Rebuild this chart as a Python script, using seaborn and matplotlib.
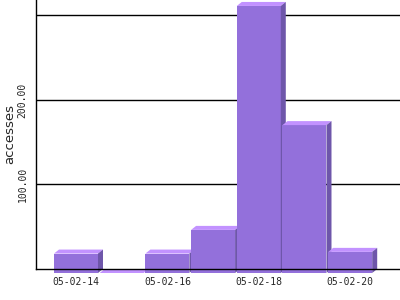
import matplotlib
matplotlib.use("Agg")
import matplotlib.pyplot as plt
from matplotlib.patches import Polygon
import seaborn as sns
import pandas as pd

dates = ["05-02-14", "05-02-15", "05-02-16", "05-02-17", "05-02-18", "05-02-19", "05-02-20"]
accesses = [23, 0, 23, 51, 316, 175, 25]
shown_labels = ["05-02-14", "", "05-02-16", "", "05-02-18", "", "05-02-20"]
ytick_vals = [100, 200, 300]
ytick_labels = ["100.00", "200.00", ""]

front = "#9370DB"
top_c = "#C292FF"
side_c = "#6E56AA"

sns.set_theme(style="white")
plt.rcParams['font.family'] = ['DejaVu Sans Mono', 'DejaVu Sans']

fig = plt.figure(figsize=(4, 3), dpi=100)
W, H = 400, 300
ax_l, ax_b = 36, 269
ax = fig.add_axes([ax_l / W, (H - ax_b) / H, (W - ax_l) / W, ax_b / H])

df = pd.DataFrame({"date": dates, "accesses": accesses})
bw = 0.963
sns.barplot(data=df, x="date", y="accesses", color=front, saturation=1,
            width=bw, ax=ax, zorder=2, linewidth=0)

xlo, xhi = -0.875, 7.09
ylo, yhi = 0, 318.3
ax.set_xlim(xlo, xhi)
ax.set_ylim(ylo, yhi)
pxx = (xhi - xlo) / (W - ax_l)
pxy = (yhi - ylo) / ax_b
ddx = 5 * pxx
ddy = 4.0 * pxy

for i, p in enumerate(ax.patches[:len(accesses)]):
    x0 = p.get_x()
    w = p.get_width()
    v = p.get_height()
    p.set_y(-ddy)
    p.set_clip_on(False)
    p.set_edgecolor("none")
    p.set_zorder(2 + i * 0.01)
    x1 = x0 + w
    ft = v - ddy
    topp = Polygon([(x0, ft), (x1, ft), (x1 + ddx, v), (x0 + ddx, v)],
                   closed=True, facecolor=top_c, edgecolor="none",
                   zorder=2 + i * 0.01, clip_on=False)
    ax.add_patch(topp)
    if v > 0:
        sidep = Polygon([(x1, -ddy), (x1 + ddx, 0), (x1 + ddx, v), (x1, ft)],
                        closed=True, facecolor=side_c, edgecolor="none",
                        zorder=2 + i * 0.01, clip_on=False)
        ax.add_patch(sidep)

ax.set_axisbelow(True)
ax.yaxis.grid(True, color="black", linewidth=1.0)
ax.xaxis.grid(False)
ax.set_yticks(ytick_vals)
ax.set_yticklabels(ytick_labels, rotation=90, va="center", fontsize=7)
ax.set_xticks(range(len(dates)))
ax.set_xticklabels(shown_labels, fontsize=7)
ax.tick_params(axis="both", length=0)
ax.tick_params(axis="x", pad=6)
ax.tick_params(axis="y", pad=6)
ax.set_xlabel("")
ax.set_ylabel("accesses", fontsize=9.5, family="DejaVu Sans")
ax.yaxis.set_label_coords(-20 / (W - ax_l), 0.5)

for s in ["top", "right"]:
    ax.spines[s].set_visible(False)
for s in ["left", "bottom"]:
    ax.spines[s].set_color("black")
    ax.spines[s].set_linewidth(1.0)
    ax.spines[s].set_zorder(5)

fig.savefig("out.png", dpi=100)
